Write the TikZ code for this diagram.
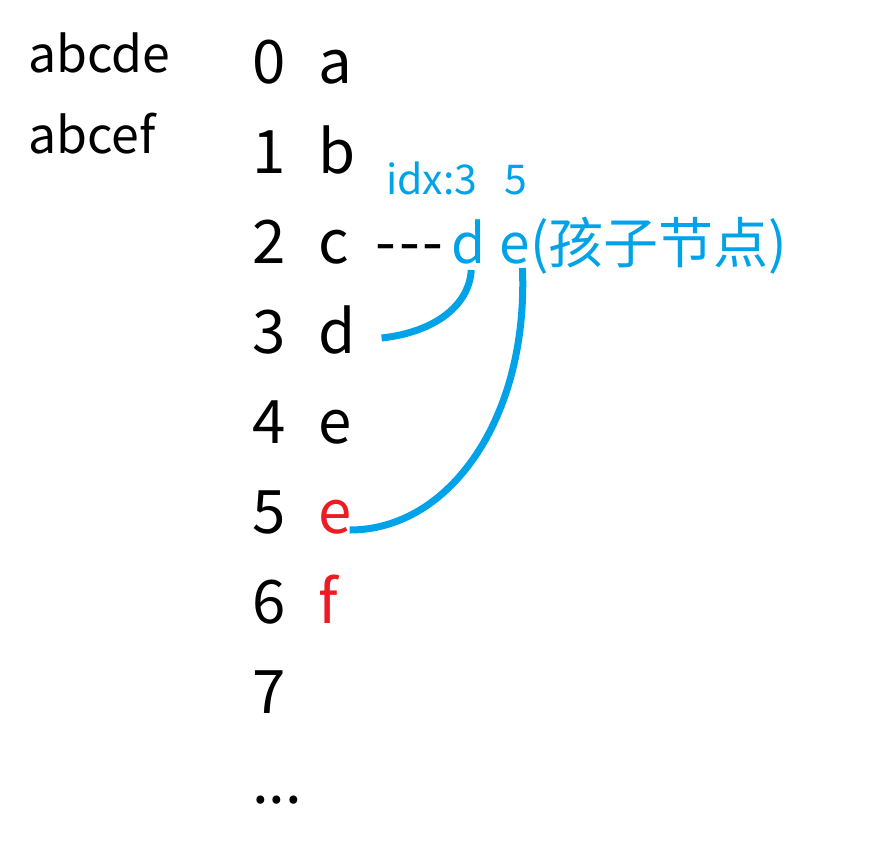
\documentclass[tikz,border=0pt]{standalone}
\usepackage{fontspec}
\setmainfont{Noto Sans CJK SC}
\usetikzlibrary{calc}
\definecolor{inkblue}{RGB}{0,162,232}
\definecolor{inkred}{RGB}{237,28,36}

\begin{document}
\begin{tikzpicture}[x=1pt,y=-1pt,
    word/.style={anchor=base west,inner sep=0pt,font=\fontsize{50}{54}\selectfont},
    cell/.style={anchor=base west,inner sep=0pt,font=\fontsize{60}{64}\selectfont},
    child/.style={anchor=base west,inner sep=0pt,text=inkblue,font=\fontsize{55}{60}\selectfont},
    tag/.style={anchor=base west,inner sep=0pt,text=inkblue,font=\fontsize{41}{44}\selectfont},
    link/.style={draw=inkblue,line width=7pt}
]
\useasboundingbox (0,0) rectangle (877,841);

% Input words
\node[word] (w1) at (28,72) {abcde};
\node[word] (w2) at (28,153) {abcef};

% Index column
\foreach \i in {0,...,7} {
    \node[cell] (num\i) at (252,83+90*\i) {\i};
}
\node[cell] (more) at (252,803) {...};

% Stored letters
\foreach \i/\c in {0/a,1/b,2/c,3/d,4/e} {
    \node[cell] (let\i) at (318,83+90*\i) {\c};
}
\node[cell,text=inkred] (let5) at (318,533) {e};
\node[cell,text=inkred] (let6) at (318,623) {f};

% Children of c
\node[tag] (idx3) at (386,194) {idx:3};
\node[tag] (idx5) at (504,194) {5};
\node[cell] (dash) at (375,263) {-\kern3pt-\kern3pt-};
\node[child] (childd) at (451,263) {d};
\node[child] (childe) at (499,263) {e};
\node[child] (note) at (childe.base east) {(孩子节点)};

% Links to rows
\draw[link] ($(childd.base)+(3,7)$) .. controls +(-2,35) and +(54,-6) .. ($(let3.base east)+(26,-15)$);
\draw[link] ($(childe.base)+(8,5)$) .. controls +(6,150) and +(100,0) .. ($(let5.base east)+(-2,-3)$);

\end{tikzpicture}
\end{document}
